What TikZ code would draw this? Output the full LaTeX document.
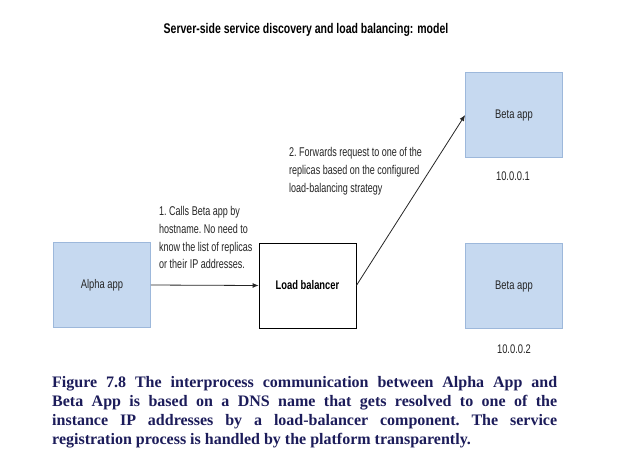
\documentclass[tikz,border=0pt]{standalone}
\usepackage{fontspec}
\setmainfont{Liberation Serif}
\newfontfamily\narrowfont[FakeStretch=0.75]{Liberation Sans}
\newfontfamily\narrowerfont[FakeStretch=0.71]{Liberation Sans}
\usetikzlibrary{arrows.meta}
\definecolor{boxblue}{HTML}{C6D9F0}
\definecolor{boxedge}{HTML}{9DB8DB}
\definecolor{capcol}{HTML}{1C1C5A}
\tikzset{
  appbox/.style={draw=boxedge, fill=boxblue, line width=0.8pt, minimum width=97pt, minimum height=85pt, font=\narrowfont\fontsize{12.5}{14}\selectfont, text=black!85},
  lbbox/.style={draw=black, fill=white, line width=0.8pt, minimum width=97pt, minimum height=85pt, font=\narrowfont\bfseries\fontsize{12.5}{14}\selectfont},
  lbl/.style={font=\narrowerfont\fontsize{12.7}{17.6}\selectfont\frenchspacing, align=left, inner sep=0pt, text=black!85},
  ip/.style={font=\narrowfont\fontsize{12.5}{14}\selectfont, inner sep=0pt, text=black!85},
  conn/.style={draw=black!85, line width=0.8pt, -{Latex[length=6pt,width=5pt]}}
}
\begin{document}
\begin{tikzpicture}[x=1pt,y=-1pt]
\useasboundingbox[fill=white] (0,0) rectangle (620,467);
\node[font=\narrowfont\bfseries\fontsize{14}{16}\selectfont, inner sep=0pt] (title) at (306,30) {Server-side service discovery and load balancing: model};
\node[appbox] (alpha) at (102,285) {Alpha app};
\node[lbbox] (lb) at (307.5,285.5) {Load balancer};
\node[appbox] (beta1) at (514,115) {Beta app};
\node[appbox] (beta2) at (514,286) {Beta app};
\node[ip] (ip1) at (513,176) {10.0.0.1};
\node[ip] (ip2) at (514,349) {10.0.0.2};
\node[lbl, anchor=north west] (l1) at (159,206.5) {1. Calls Beta app by\\hostname. No need to\\know the list of replicas\\or their IP addresses.};
\node[lbl, anchor=north west] (l2) at (289,147.5) {2. Forwards request to one of the\\replicas based on the configured\\load-balancing strategy};
\draw[conn] (alpha.east) -- (lb.west);
\draw[conn] (lb.east) -- (beta1.west);
\node[anchor=north west, text width=505pt, align=justify, inner sep=0pt, text=capcol, font=\bfseries\fontsize{16}{19}\selectfont] (cap) at (52,376) {\frenchspacing Figure 7.8 The interprocess communication between Alpha App and\linebreak Beta App is based on a DNS name that gets resolved to one of the\linebreak instance IP addresses by a load-balancer component. The service\linebreak registration process is handled by the platform transparently.};
\end{tikzpicture}
\end{document}
